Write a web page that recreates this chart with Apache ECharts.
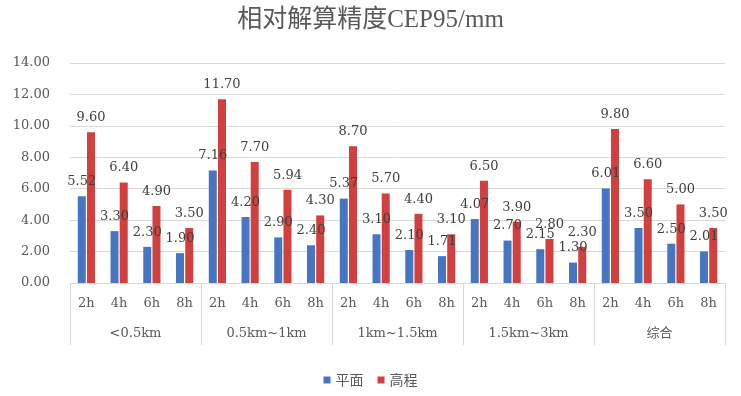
<!DOCTYPE html>
<html><head><meta charset="utf-8">
<script src="https://cdn.jsdelivr.net/npm/echarts@6/dist/echarts.min.js"></script>
<style>html,body{margin:0;padding:0;background:#fff}#c{width:741px;height:396px}</style>
</head><body><div id="c"></div>
<script>
const hours = ['2h','4h','6h','8h'];
const groups = ['<0.5km','0.5km~1km','1km~1.5km','1.5km~3km','综合'];
const planeValues = [5.52,3.30,2.30,1.90, 7.16,4.20,2.90,2.40, 5.37,3.10,2.10,1.71, 4.07,2.70,2.15,1.30, 6.01,3.50,2.50,2.01];
const heightValues = [9.60,6.40,4.90,3.50, 11.70,7.70,5.94,4.30, 8.70,5.70,4.40,3.10, 6.50,3.90,2.80,2.30, 9.80,6.60,5.00,3.50];
const yTicks = [0,2,4,6,8,10,12,14];

const categories = [];
groups.forEach(g => hours.forEach(h => categories.push(h)));

const FONT = "'DejaVu Serif','Noto Sans CJK SC',serif";
const GREY = '#595959';
const DARK = '#404040';
const BLUE = '#4675C2';
const RED = '#D13F3F';

const chart = echarts.init(document.getElementById('c'));
chart.setOption({
  animation: false,
  title: {
    text: '相对解算精度CEP95/mm',
    left: 'center', top: 3,
    textStyle: {fontFamily: "'Liberation Serif','Noto Sans CJK SC',serif", fontSize: 25, fontWeight: 'normal', color: GREY}
  },
  legend: {
    bottom: 4, left: 'center',
    icon: 'rect', itemWidth: 7, itemHeight: 7, itemGap: 14,
    textStyle: {fontFamily: "'Noto Sans CJK SC',sans-serif", fontSize: 14, color: GREY},
    data: ['平面','高程']
  },
  grid: {left: 70, right: 16, top: 63, bottom: 113},
  xAxis: [
    {
      type: 'category', data: categories, position: 'bottom',
      axisLine: {show: true, lineStyle: {color: '#D9D9D9'}},
      axisTick: {show: false},
      axisLabel: {interval: 0, margin: 14, fontFamily: FONT, fontSize: 13, color: GREY}
    },
    {
      type: 'category', data: groups, position: 'bottom',
      axisLine: {show: true, lineStyle: {color: '#D9D9D9'}},
      axisTick: {show: true, interval: 0, length: 62, alignWithLabel: false, lineStyle: {color: '#D9D9D9'}},
      axisLabel: {interval: 0, margin: 44, fontFamily: FONT, fontSize: 13, color: GREY}
    }
  ],
  yAxis: {
    type: 'value', min: yTicks[0], max: yTicks[yTicks.length-1], interval: 2,
    axisLine: {show: false}, axisTick: {show: false},
    splitLine: {lineStyle: {color: '#D9D9D9'}},
    axisLabel: {margin: 20, fontFamily: FONT, fontSize: 13, color: GREY, formatter: v => v.toFixed(2)}
  },
  series: [
    {
      name: '平面', type: 'bar', xAxisIndex: 0, data: planeValues,
      barWidth: 8, barGap: '15%',
      itemStyle: {color: BLUE},
      label: {show: true, position: 'top', distance: 8, fontFamily: FONT, fontSize: 13, color: DARK, formatter: p => p.value.toFixed(2)}
    },
    {
      name: '高程', type: 'bar', xAxisIndex: 0, data: heightValues,
      barWidth: 8, barGap: '15%',
      itemStyle: {color: RED},
      label: {show: true, position: 'top', distance: 8, fontFamily: FONT, fontSize: 13, color: DARK, formatter: p => p.value.toFixed(2)}
    }
  ]
});
</script></body></html>
